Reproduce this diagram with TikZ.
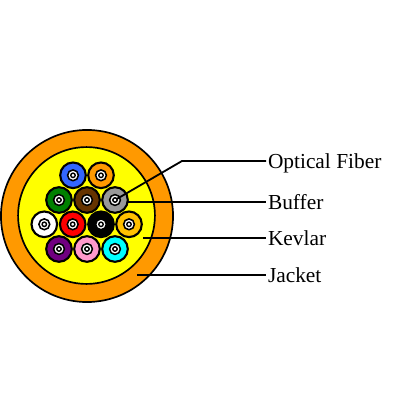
\documentclass[tikz,border=0pt]{standalone}
\usepackage{fontspec}
\setmainfont{Liberation Serif}
\usepackage{xcolor}
\usetikzlibrary{positioning}
\definecolor{jacketorange}{RGB}{255,153,0}
\definecolor{kevlaryellow}{RGB}{255,255,0}
\definecolor{fibblue}{RGB}{51,102,255}
\definecolor{fibgreen}{RGB}{0,128,0}
\definecolor{fibbrown}{RGB}{102,51,0}
\definecolor{fibgray}{RGB}{153,153,153}
\definecolor{fibamber}{RGB}{255,192,0}
\definecolor{fibpurple}{RGB}{112,0,128}
\definecolor{fibpink}{RGB}{255,153,204}
\definecolor{fibcyan}{RGB}{0,255,255}
\tikzset{
  ring/.style={circle, draw=black, inner sep=0pt, outer sep=0pt},
  bufferring/.style={ring, line width=1.5pt, minimum size=0.64cm},
  corering/.style={ring, fill=white, line width=1.1pt, minimum size=0.27cm},
  tipring/.style={ring, fill=white, line width=1pt, minimum size=0.11cm},
  leader/.style={draw=black, line width=1.3pt},
  partlabel/.style={inner sep=0pt, outer sep=0.05cm, anchor=west, text height=0.35cm, text depth=0pt, font=\fontsize{15.2}{18}\selectfont}
}
\begin{document}
\begin{tikzpicture}[x=0.025cm, y=-0.025cm]
\useasboundingbox (0,0) rectangle (400,400);
\node[ring, fill=jacketorange, line width=1.2pt, minimum size=4.3cm] (jacket) at (87,216) {};
\node[ring, fill=kevlaryellow, line width=1.2pt, minimum size=3.42cm] (kevlar) at (86.5,215.5) {};
% twelve fibers, row by row
\foreach \name/\x/\y/\col in {a/73/175.3/fibblue, b/101/175.3/jacketorange,
    c/59/200/fibgreen, d/87/200/fibbrown, e/115/200/fibgray,
    f/44.3/224.3/white, g/72.7/224.3/red, h/101/224.3/black, i/129/224.3/fibamber,
    j/59/249/fibpurple, k/87/249/fibpink, l/115/249/fibcyan} {
  \node[bufferring, fill=\col] (buf\name) at (\x,\y) {};
  \node[corering] (core\name) at (\x,\y) {};
  \node[tipring] (tip\name) at (\x,\y) {};
}
% labels and leaders
\node[partlabel] (optical) at (266,161) {Optical Fiber};
\node[partlabel] (buffer) at (266,202) {Buffer};
\node[partlabel] (kevlartxt) at (266,238) {Kevlar};
\node[partlabel] (jackettxt) at (266,275) {Jacket};
\coordinate (opticalknee) at (182,161);
\coordinate (bufferend) at (128,202);
\coordinate (kevlarend) at (143,238);
\coordinate (jacketend) at (137,275);
\draw[leader] (tipe) -- (opticalknee) -- (optical.west);
\draw[leader] (bufferend) -- (buffer.west);
\draw[leader] (kevlarend) -- (kevlartxt.west);
\draw[leader] (jacketend) -- (jackettxt.west);
\end{tikzpicture}
\end{document}
